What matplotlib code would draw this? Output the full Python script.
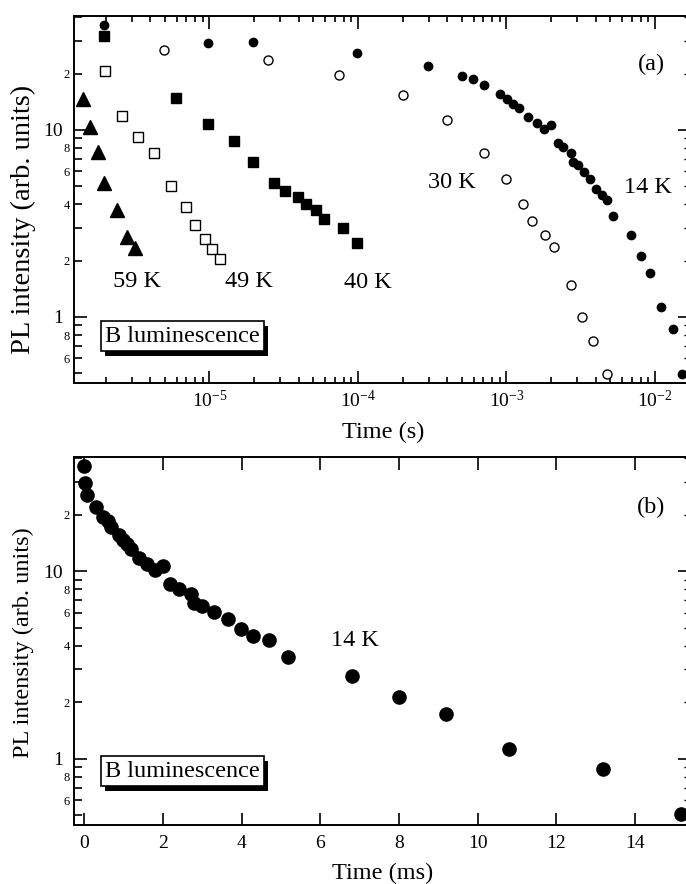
import matplotlib
matplotlib.use('Agg')
import matplotlib.pyplot as plt
from matplotlib import ticker
from matplotlib import patheffects as pe

plt.rcParams['font.family'] = 'Liberation Serif'
plt.rcParams['mathtext.fontset'] = 'custom'
plt.rcParams['mathtext.rm'] = 'Liberation Serif'
plt.rcParams['mathtext.it'] = 'Liberation Serif:italic'

# ---- panel (a): decay curves, time in seconds ----
t59 = [1.41e-6, 1.57e-6, 1.78e-6, 1.96e-6, 2.37e-6, 2.77e-6, 3.15e-6]
i59 = [14.7, 10.35, 7.6, 5.2, 3.71, 2.69, 2.34]

t49 = [1.98e-6, 2.56e-6, 3.31e-6, 4.25e-6, 5.48e-6, 6.91e-6, 7.99e-6,
       9.28e-6, 1.035e-5, 1.18e-5]
i49 = [20.55, 11.85, 9.15, 7.52, 5.01, 3.85, 3.10, 2.61, 2.30, 2.05]

t40 = [1.96e-6, 5.92e-6, 9.81e-6, 1.469e-5, 1.972e-5, 2.73e-5, 3.24e-5,
       3.95e-5, 4.47e-5, 5.23e-5, 5.92e-5, 7.93e-5, 9.89e-5]
i40 = [31.7, 14.86, 10.79, 8.73, 6.74, 5.21, 4.72, 4.37, 4.0, 3.74, 3.34,
       3.0, 2.49]

t30 = [4.94e-6, 2.49e-5, 7.45e-5, 2.0e-4, 3.97e-4, 7.02e-4, 1.0e-3, 1.29e-3,
       1.49e-3, 1.81e-3, 2.10e-3, 2.71e-3, 3.21e-3, 3.84e-3, 4.73e-3]
i30 = [26.8, 23.7, 19.56, 15.35, 11.34, 7.51, 5.48, 4.0, 3.24, 2.73, 2.36,
       1.486, 0.998, 0.743, 0.497]

t14 = [1.96e-6, 9.82e-6, 1.97e-5, 9.89e-5, 2.97e-4, 5.01e-4, 5.97e-4,
       7.02e-4, 9.04e-4, 1.003e-3, 1.10e-3, 1.21e-3, 1.396e-3, 1.605e-3,
       1.797e-3, 2.01e-3, 2.22e-3, 2.39e-3, 2.71e-3, 2.82e-3, 3.04e-3,
       3.31e-3, 3.65e-3, 4.01e-3, 4.38e-3, 4.75e-3, 5.21e-3, 6.89e-3,
       8.05e-3, 9.25e-3, 1.093e-2, 1.327e-2, 1.51e-2]
i14 = [36.2, 29.0, 29.4, 25.7, 21.9, 19.5, 18.7, 17.3, 15.6, 14.55, 13.8,
       13.15, 11.77, 10.94, 10.16, 10.59, 8.50, 8.06, 7.56, 6.74, 6.46, 5.98,
       5.48, 4.84, 4.46, 4.22, 3.48, 2.73, 2.11, 1.72, 1.124, 0.865, 0.497]

# ---- panel (b): 14 K, time in ms ----
tb = [0.0, 0.013, 0.084, 0.30, 0.49, 0.61, 0.69, 0.89, 0.99, 1.09, 1.19,
      1.40, 1.60, 1.80, 2.01, 2.18, 2.40, 2.71, 2.79, 3.00, 3.30, 3.65, 3.99,
      4.30, 4.69, 5.19, 6.80, 8.00, 9.20, 10.80, 13.19, 15.17]
ib = [36.2, 29.4, 25.6, 22.0, 19.4, 18.5, 17.3, 15.5, 14.6, 13.9, 13.2,
      11.8, 10.96, 10.1, 10.6, 8.5, 7.99, 7.6, 6.79, 6.51, 6.05, 5.53, 4.89,
      4.50, 4.27, 3.50, 2.76, 2.13, 1.74, 1.13, 0.877, 0.505]

y_major = [1, 10]
y_major_labels = ['1', '10']
y_minor = [0.5, 0.6, 0.7, 0.8, 0.9, 2, 3, 4, 5, 6, 7, 8, 9, 20, 30, 40]
y_minor_labels = ['', '6', '', '8', '', '2', '', '4', '', '6', '', '8', '',
                  '2', '', '']
x_decades = [1e-5, 1e-4, 1e-3, 1e-2]
x_decade_labels = [r'$10^{-5}$', r'$10^{-4}$', r'$10^{-3}$', r'$10^{-2}$']
ms_ticks = [0, 2, 4, 6, 8, 10, 12, 14]

ylim = (0.443, 40.6)
lw = 1.4

fig = plt.figure(figsize=(6.86, 8.84), dpi=100)
ax1 = fig.add_axes([0.1079, 0.5667, 0.8921, 0.4152])
ax2 = fig.add_axes([0.1079, 0.0667, 0.8921, 0.4163])


def style_y(ax):
    ax.set_yscale('log')
    ax.set_ylim(*ylim)
    ax.yaxis.set_major_locator(ticker.FixedLocator(y_major))
    ax.yaxis.set_major_formatter(ticker.FixedFormatter(y_major_labels))
    ax.yaxis.set_minor_locator(ticker.FixedLocator(y_minor))
    ax.yaxis.set_minor_formatter(ticker.FixedFormatter(y_minor_labels))
    ax.tick_params(axis='y', which='major', direction='in', length=9.5,
                   width=1.2, labelsize=14, pad=8)
    ax.tick_params(axis='y', which='minor', direction='in', length=6,
                   width=1.2, labelsize=9, pad=3)
    for s in ax.spines.values():
        s.set_linewidth(lw)
    ax.spines['right'].set_visible(False)
    # right-hand ticks are shorter, drawn on a twin axis
    tw = ax.twinx()
    tw.set_yscale('log')
    tw.set_ylim(*ylim)
    tw.yaxis.set_major_locator(ticker.FixedLocator(y_major))
    tw.yaxis.set_minor_locator(ticker.FixedLocator(y_minor))
    tw.yaxis.set_major_formatter(ticker.NullFormatter())
    tw.yaxis.set_minor_formatter(ticker.NullFormatter())
    tw.tick_params(axis='y', which='major', direction='in', length=6, width=1.2)
    tw.tick_params(axis='y', which='minor', direction='in', length=1.5, width=1.0)
    for s in tw.spines.values():
        s.set_visible(False)


def label_box(ax, x, y):
    t = ax.text(x, y, 'B luminescence', fontsize=17.5, transform=ax.transAxes,
                bbox=dict(boxstyle='square,pad=0.18', lw=1.2, fc='white',
                          ec='black'), zorder=6)
    t.get_bbox_patch().set_path_effects([
        pe.SimplePatchShadow(offset=(3, -3.6), shadow_rgbFace='black', alpha=1.0),
        pe.Normal()])


# panel (a)
ax1.plot(t14, i14, 'o', color='black', ms=6, ls='none')
ax1.plot(t30, i30, 'o', mfc='white', mec='black', mew=1.0, ms=6.5, ls='none')
ax1.plot(t40, i40, 's', color='black', ms=7.5, ls='none')
ax1.plot(t49, i49, 's', mfc='white', mec='black', mew=1.0, ms=7.5, ls='none')
ax1.plot(t59, i59, '^', color='black', ms=9.5, ls='none')
ax1.set_xscale('log')
ax1.set_xlim(1.224e-6, 1.618e-2)
ax1.xaxis.set_major_locator(ticker.FixedLocator(x_decades))
ax1.xaxis.set_major_formatter(ticker.FixedFormatter(x_decade_labels))
ax1.xaxis.set_minor_locator(ticker.LogLocator(base=10, subs=range(2, 10), numticks=30))
ax1.xaxis.set_minor_formatter(ticker.NullFormatter())
ax1.tick_params(axis='x', which='major', direction='in', top=True,
                length=9, width=1.2, labelsize=14, pad=5)
ax1.tick_params(axis='x', which='minor', direction='in', top=True,
                length=4.5, width=1.2)
style_y(ax1)

for txt, x, y in [('59 K', 0.1029, 0.2616), ('49 K', 0.2859, 0.2616),
                  ('40 K', 0.4796, 0.2589), ('30 K', 0.6168, 0.5313),
                  ('14 K', 0.9379, 0.5177), ('(a)', 0.9428, 0.8529)]:
    ax1.text(x, y, txt, fontsize=17.5, ha='center', va='baseline',
             transform=ax1.transAxes)
label_box(ax1, 0.0507, 0.1125)
ax1.text(0.505, -0.1335, 'Time (s)', fontsize=17.5, ha='center', va='center',
         transform=ax1.transAxes)
ax1.text(-0.0833, 0.447, 'PL intensity (arb. units)', fontsize=20.5,
         rotation=90, ha='center', va='center', transform=ax1.transAxes)

# panel (b)
ax2.plot(tb, ib, 'o', color='black', ms=9.5, ls='none')
ax2.set_xlim(-0.254, 15.29)
ax2.xaxis.set_major_locator(ticker.FixedLocator(ms_ticks))
ax2.tick_params(axis='x', which='major', direction='in', top=True,
                length=9, width=1.2, labelsize=14, pad=7)
style_y(ax2)

ax2.text(0.4592, 0.4864, '14 K', fontsize=17.5, ha='center', va='baseline',
         transform=ax2.transAxes)
ax2.text(0.9436, 0.847, '(b)', fontsize=17.5, ha='center', va='baseline',
         transform=ax2.transAxes)
label_box(ax2, 0.0507, 0.1313)
ax2.text(0.505, -0.1304, 'Time (ms)', fontsize=17.5, ha='center', va='center',
         transform=ax2.transAxes)
ax2.text(-0.0833, 0.496, 'PL intensity (arb. units)', fontsize=17.5,
         rotation=90, ha='center', va='center', transform=ax2.transAxes)

fig.savefig('out.png', dpi=100)
